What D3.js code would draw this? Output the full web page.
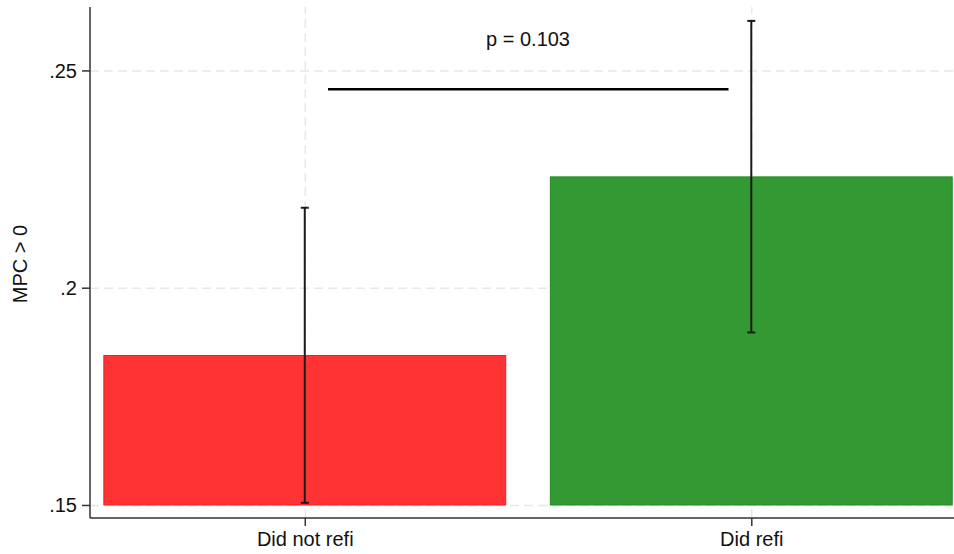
<!DOCTYPE html>
<html>
<head>
<meta charset="utf-8">
<script src="https://cdn.jsdelivr.net/npm/d3@7"></script>
<style>
  body { margin: 0; background: #fff; }
  text { font-family: "Liberation Sans", Arial, Helvetica, sans-serif; fill: #111; }
  .grid line { stroke: #e8e8e8; stroke-width: 1.5; stroke-dasharray: 9,5; }
  .grid path { display: none; }
</style>
</head>
<body>
<div id="chart"></div>
<script>
// data
var categories = ["Did not refi", "Did refi"];
var means = [0.1844, 0.2255];
var ciLow = [0.1505, 0.1897];
var ciHigh = [0.2184, 0.2614];
var yTicks = [0.15, 0.2, 0.25];
var pText = "p = 0.103";
var bracketValue = 0.2457;
var barColors = ["#ff3333", "#339933"];
var barStrokes = ["#ff1a1a", "#1f8a1f"];

var w = 954;
var h = 554;

var xScale = d3.scaleLinear()
    .domain([-0.481, 1.454])
    .range([90, w]);
var yScale = d3.scaleLinear()
    .domain([0.147, 0.2646])
    .range([518, 7]);

var svg = d3.select("#chart")
    .append("svg")
    .attr("width", w)
    .attr("height", h);

// gridlines
svg.append("g")
    .attr("class", "grid")
    .attr("transform", "translate(90,0)")
    .call(d3.axisLeft(yScale).tickValues(yTicks).tickSize(-(w - 90)).tickFormat(""));
svg.append("g")
    .attr("class", "grid")
    .attr("transform", "translate(0,518)")
    .call(d3.axisBottom(xScale).tickValues([0, 1]).tickSize(-511).tickFormat(""));

// bars
var barW = 0.9;
svg.selectAll(".bar")
    .data(means)
    .enter()
    .append("rect")
    .attr("class", "bar")
    .attr("x", function(d, i) { return xScale(i - barW / 2); })
    .attr("width", function(d, i) { return xScale(i + barW / 2) - xScale(i - barW / 2); })
    .attr("y", function(d) { return yScale(d); })
    .attr("height", function(d) { return yScale(0.15) - yScale(d); })
    .style("fill", function(d, i) { return barColors[i]; })
    .style("stroke", function(d, i) { return barStrokes[i]; })
    .style("stroke-width", 1);

// error bars
var capW = 8;
categories.forEach(function(c, i) {
    var cx = xScale(i);
    var g = svg.append("g").style("stroke", "#1a1a1a").style("stroke-width", 2);
    g.append("line")
        .attr("x1", cx).attr("x2", cx)
        .attr("y1", yScale(ciLow[i])).attr("y2", yScale(ciHigh[i]));
    g.append("line")
        .attr("x1", cx - capW / 2).attr("x2", cx + capW / 2)
        .attr("y1", yScale(ciLow[i])).attr("y2", yScale(ciLow[i]));
    g.append("line")
        .attr("x1", cx - capW / 2).attr("x2", cx + capW / 2)
        .attr("y1", yScale(ciHigh[i])).attr("y2", yScale(ciHigh[i]));
});

// significance line and p value
svg.append("line")
    .attr("x1", xScale(0.052)).attr("x2", xScale(0.949))
    .attr("y1", yScale(bracketValue)).attr("y2", yScale(bracketValue))
    .style("stroke", "#000")
    .style("stroke-width", 2.5);
svg.append("text")
    .attr("x", xScale(0.5))
    .attr("y", 46)
    .attr("text-anchor", "middle")
    .style("font-size", "20px")
    .text(pText);

// axes
var fmt = function(d) { return d3.format("~g")(d).replace(/^0\./, "."); };
var yAxis = svg.append("g")
    .attr("transform", "translate(90,0)")
    .call(d3.axisLeft(yScale).tickValues(yTicks).tickSize(8).tickPadding(5).tickFormat(fmt));
yAxis.select(".domain").attr("d", "M0,7V518").style("stroke", "#333").style("stroke-width", 1.5);
yAxis.selectAll(".tick line").style("stroke", "#333").style("stroke-width", 1.5);
yAxis.selectAll("text").style("font-size", "20px").attr("dy", "0.35em");

var xAxis = svg.append("g")
    .attr("transform", "translate(0,518)")
    .call(d3.axisBottom(xScale).tickValues([0, 1]).tickSize(8).tickPadding(6)
        .tickFormat(function(d) { return categories[d]; }));
xAxis.select(".domain").attr("d", "M90,0H" + w).style("stroke", "#333").style("stroke-width", 1.5);
xAxis.selectAll(".tick line").style("stroke", "#333").style("stroke-width", 1.5);
xAxis.selectAll("text").style("font-size", "20px");

// y label
svg.append("text")
    .attr("transform", "rotate(-90)")
    .attr("x", -264)
    .attr("y", 27)
    .attr("text-anchor", "middle")
    .style("font-size", "20px")
    .text("MPC > 0");
</script>
</body>
</html>
